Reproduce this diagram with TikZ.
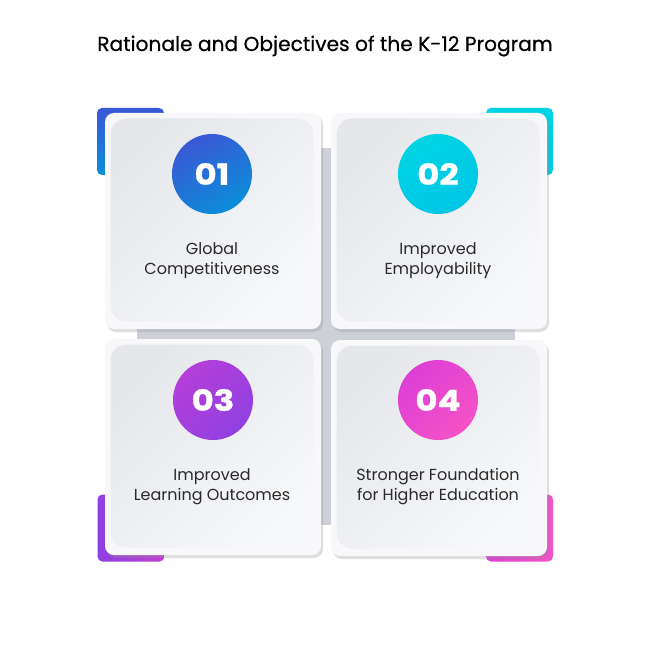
\documentclass[tikz,border=0pt]{standalone}
\usepackage{fontspec}
\setmainfont{Poppins}
\usetikzlibrary{shadows}
\definecolor{backgray}{HTML}{CDD1D7}
\definecolor{cardwhite}{HTML}{F8F8FA}
\definecolor{panelA}{HTML}{E5E7EB}
\definecolor{panelB}{HTML}{F7F8FA}
\definecolor{txt}{HTML}{2A2A2A}
\definecolor{blueA}{HTML}{3A58D4}
\definecolor{blueB}{HTML}{0B8DD9}
\definecolor{cyanA}{HTML}{00D4E4}
\definecolor{cyanB}{HTML}{00C6E6}
\definecolor{purA}{HTML}{8E3FE2}
\definecolor{purB}{HTML}{C23FD2}
\definecolor{purC}{HTML}{B43FD8}
\definecolor{purD}{HTML}{9140E2}
\definecolor{pinkA}{HTML}{DD3FD6}
\definecolor{pinkB}{HTML}{F552C6}
\begin{document}
\begin{tikzpicture}[x=1pt,y=-1pt,
  accent/.style={rounded corners=5pt, minimum width=67pt, minimum height=67pt, inner sep=0pt, draw=none},
  card/.style={rounded corners=9pt, minimum width=216pt, minimum height=216pt, inner sep=0pt, fill=cardwhite,
     drop shadow={shadow xshift=2pt, shadow yshift=-3pt, opacity=0.28, fill=black!45}},
  panel/.style={rounded corners=16pt, minimum width=203pt, minimum height=203pt, inner sep=0pt,
     top color=panelA, bottom color=panelB, shading angle=45},
  num/.style={circle, minimum size=80pt, inner sep=0pt, text=white,
     font=\fontsize{29}{29}\selectfont\bfseries\addfontfeature{FakeStretch=1.17,FakeBold=1.2}},
  lbl/.style={align=center, text=txt, font=\fontsize{16}{20}\selectfont, inner sep=0pt}]
\useasboundingbox[fill=white] (0,0) rectangle (650,650);
\node[text=black, font=\fontsize{20.2}{24}\selectfont\addfontfeature{FakeBold=0.5}, inner sep=0pt] (title) at (325,46) {Rationale and Objectives of the K-12 Program};
% background square
\node[fill=backgray, minimum width=378pt, minimum height=377pt, inner sep=0pt] (back) at (326,336.5) {};
% accents
\node[accent, top color=blueA, bottom color=blueB] (ac1) at (130.5,141.5) {};
\node[accent, top color=cyanA, bottom color=cyanB] (ac2) at (519.5,141.5) {};
\node[accent, left color=purA, right color=purB] (ac3) at (131,528) {};
\node[accent, left color=pinkA, right color=pinkB] (ac4) at (519.5,528) {};
% cards
\node[card] (c1) at (213,221) {};
\node[card] (c2) at (439,221) {};
\node[card] (c3) at (213,447) {};
\node[card] (c4) at (439,448) {};
\foreach \c in {c1,c2,c3,c4}{
  \node[panel] (p\c) at ([xshift=-1pt,yshift=1pt]\c.center) {};
}
% numbers
\node[num, top color=blueA, bottom color=blueB, shading angle=30] (n1) at (212,174) {01};
\node[num, top color=cyanA, bottom color=cyanB, shading angle=30] (n2) at (438,174) {02};
\node[num, top color=purC, bottom color=purD, shading angle=45] (n3) at (213,400) {03};
\node[num, top color=pinkA, bottom color=pinkB, shading angle=45] (n4) at (438,400) {04};
% labels
\node[lbl] (l1) at (212,261) {Global\\Competitiveness};
\node[lbl] (l2) at (438,261) {Improved\\Employability};
\node[lbl] (l3) at (212,487) {Improved\\Learning Outcomes};
\node[lbl] (l4) at (438,487) {Stronger Foundation\\for Higher Education};
\end{tikzpicture}
\end{document}
